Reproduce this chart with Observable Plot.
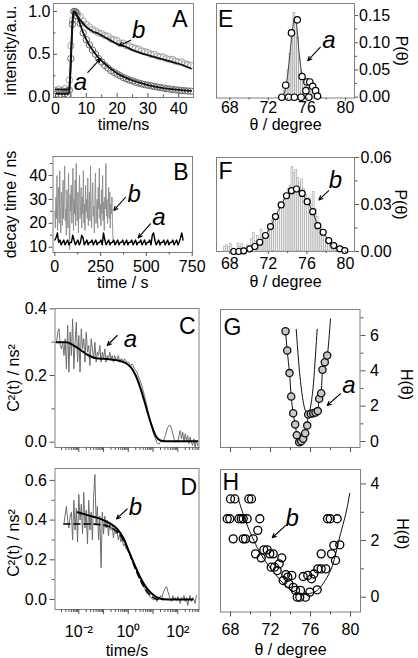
<!DOCTYPE html>
<html><head><meta charset="utf-8">
<script src="https://cdn.jsdelivr.net/npm/d3@7"></script>
<script src="https://cdn.jsdelivr.net/npm/@observablehq/plot@0.6"></script>
<style>
html,body{margin:0;padding:0;background:#fff;}
#root{position:relative;width:418px;height:658px;overflow:hidden;background:#fff;}
#root svg{position:absolute;max-width:none;}
</style></head><body><div id="root"></div>
<script>
// ---------- Panel A : fluorescence decays ----------
const aTime = [0,1,2,3,4,4.5,5,5.5,6,6.5,7,8,9,10,11,12,13,14,15,16,17,18,19,20,21,22,23,24,25,26,27,28,29,30,31,32,33,34,35,36,37,38,39,40,41,42,43,44];
const aCircA = [0.03,0.02,0.03,0.04,0.03, 0.08,0.45,0.85,1.0,0.99, 0.95,0.86,0.75,0.67,0.61,0.55,0.50,0.45,0.41,0.37, 0.34,0.31,0.29,0.27,0.25,0.23,0.215,0.20,0.19,0.175, 0.165,0.155,0.147,0.14,0.133,0.126,0.119,0.113,0.107,0.10, 0.095,0.09,0.086,0.082,0.078,0.075,0.072,0.07];
const aCircB = [0.08,0.09,0.08,0.10,0.08, 0.2,0.6,0.9,1.0,1.0, 0.98,0.94,0.89,0.85,0.82,0.79,0.77,0.75,0.74,0.72, 0.71,0.68,0.67,0.66,0.63,0.63,0.60,0.60,0.58,0.57, 0.56,0.54,0.53,0.52,0.50,0.50,0.48,0.47,0.47,0.45, 0.44,0.44,0.42,0.41,0.41,0.39,0.38,0.37];
const aFitTime = [0,4.4,4.8,5.2,5.6,6.0,6.5,7,8,9,10,12,14,16,18,20,22,25,28,31,34,37,40,44];
const aFitA = [0.04,0.04,0.25,0.6,0.9,1.0,0.99,0.95,0.85,0.75,0.67,0.55,0.46,0.39,0.33,0.28,0.24,0.195,0.16,0.133,0.113,0.097,0.085,0.073];
const aFitB = [0.09,0.09,0.3,0.65,0.92,1.0,0.98,0.95,0.9,0.86,0.82,0.77,0.74,0.70,0.66,0.62,0.60,0.55,0.51,0.48,0.45,0.42,0.39,0.335];
const annA = [{label:"a", tx:8.1, ty:0.175, x1:10.5, y1:0.29, x2:14.6, y2:0.45},
              {label:"b", tx:27.0, ty:0.78, x1:24.4, y1:0.665, x2:20.6, y2:0.6}];

// ---------- Panel B : decay-time trajectories ----------
const bStepB = 3, bStepA = 7;
const bTraceB = [25,18,31,22,40,17,28,35,20,42, 24,16,33,27,19,38,22,30,44,21, 26,15,34,29,18,41,23,9,32,25, 36,20,28,43,17,30,24,38,19,45, 26,21,33,16,29,40,22,27,35,18, 31,24,42,20,28,17,36,25,30,22, 39,19,26,33,21,44,24,18,29,37, 23,27,16,32,41,20,25,30,18,35, 26,43,22,28,19,34,24,40,21,29, 17,31,26,45,23,30,20,27,35,22, 33,18,28,24,31,20,12,13,12,11, 12];
const bTraceA = [13,14,16,12,13,11,12,13,11,12, 13,11,12,12,15,13,11,12,13,11, 12,15,14,11,12,13,11,12,12,13, 11,12,13,11,12,12,13,11,16,13, 11,12,13,11,12,12,13,11,12,13, 11,12,12,13,11,12,13,11,12,12, 13,11,12,13,11,12,12,13,11,12, 13,11,12,12,13,11,15,16,13,11, 12,13,11,12,12,13,11,12,13,11, 12,12,13,11,12,13,11,12,14,16, 13];
const annB = [{label:"b", tx:433, ty:32.3, x1:386, y1:30.9, x2:322, y2:25.4},
              {label:"a", tx:568, ty:22.6, x1:522, y1:19.8, x2:455, y2:13.9}];

// ---------- Panel C : correlation a ----------
const cLog0 = -2.9, cLogStep = 0.05;
const cData = [0.30,0.33,0.34,0.29,0.28,0.30,0.26,0.31,0.22,
 0.35,0.21,0.33,0.26,0.37,0.22,0.30,0.36,0.24,0.32,0.21,0.34,0.28,0.31,0.24,0.33,0.27,0.29,0.23,0.31,
 0.28,0.25,0.30,0.24,0.27,0.26,0.29,0.24,0.27,0.25,0.28,0.24,0.26,0.25,0.27,0.25,0.26,0.24,0.26,0.25,
 0.25,0.26,0.24,0.25,0.25,0.24,0.25,0.245,0.24,0.24,0.235,0.23,0.235,0.23,0.22,0.215,0.21,0.20,0.19,0.18,
 0.17,0.155,0.14,0.125,0.11,0.09,0.075,0.06,0.045,0.03,0.02,0.01,
 0.0,-0.005,-0.005,0.0,0.005,0.0,0.01,0.02,0.035,0.045,0.05,0.05,0.04,0.025,0.01,0.0,0.005,0.0,0.02,0.035,0.01,0.03,0.0,0.025,0.005,0.02,-0.005,0.015,0.0,-0.01,0.01,-0.015,0.005,-0.01];
const cFitLog = [-2.9,-2.5,-2.2,-1.9,-1.6,-1.3,-1.0,-0.7,-0.4,-0.1,0.1,0.3,0.5,0.7,0.9,1.1,1.3,1.5,2.0,2.8];
const cFitVal = [0.30,0.30,0.29,0.275,0.26,0.252,0.25,0.248,0.245,0.237,0.225,0.20,0.16,0.11,0.06,0.02,0.005,0.003,0.003,0.003];
const annC = [{label:"a", tx:1.23, ty:0.31, x1:0.355, y1:0.32, x2:0.141, y2:0.29}];

// ---------- Panel D : correlation b ----------
const dLog0 = -2.6, dLogStep = 0.05;
const dData = [0.38,0.43,0.47,0.40,0.36,0.42,0.44,0.30,0.50,0.35,0.46,0.29,0.53,
 0.40,0.48,0.33,0.54,0.36,0.45,0.28,0.50,0.35,0.44,0.30,0.52,0.63,0.38,0.47,0.30,0.42,0.16,0.44,0.33,
 0.42,0.36,0.40,0.32,0.39,0.35,0.37,0.31,0.36,0.33,0.34,0.30,0.33,0.29,0.31,0.27,0.28,0.26,0.25,0.24,
 0.23,0.21,0.20,0.19,0.17,0.16,0.14,0.13,0.11,0.10,0.08,0.07,0.06,0.045,0.03,0.03,0.02,0.01,0.005,0.0,
 0.0,0.01,-0.01,0.0,0.005,0.02,0.0,0.03,0.045,0.06,0.065,0.04,0.02,0.0,-0.01,0.02,0.0,0.01,-0.005,0.015,0.0,-0.02,0.01,0.0,0.02,-0.01,0.01,-0.03,0.0,0.02,-0.01,0.01,0.0,-0.02,0.02];
const dFitLog = [-2.05,-1.5,-1.1,-0.7,-0.45,-0.2,0,0.2,0.49,0.7,0.9,1.1,1.3,1.6,2.6];
const dFitVal = [0.44,0.42,0.405,0.38,0.356,0.31,0.25,0.19,0.11,0.065,0.035,0.015,0.004,0.0,0.0];
const dDashLog = [-2.6,-1.5,-1.0,-0.6,-0.3,0.0,0.3,0.6,0.9,1.2,1.45];
const dDashVal = [0.38,0.38,0.375,0.355,0.32,0.25,0.15,0.07,0.02,0.0,0.0];
const annD = [{label:"b", tx:1.95, ty:0.464, x1:0.90, y1:0.456, x2:0.333, y2:0.406}];
const cdTicks = [0.001,0.01,0.1,1,10,100];
const cdTickLabels = ["","10⁻²","","10⁰","","10²"];

// ---------- Panel E : angle distribution a ----------
const eBinStart = 73.4, eBinW = 0.2;
const eBins = [0.004,0.012,0.028,0.05,0.08,0.11,0.155,0.135,0.11,0.07,0.045,0.032,0.028,0.026,0.024,0.02,0.015,0.01,0.005];
const eCircT = [73.4,73.8,74.4,75.0,75.5,75.9,76.0,76.3,76.6,76.9,77.1,74.1,74.7,75.4,76.2];
const eCircP = [0.0,0.022,0.118,0.142,0.038,0.012,0.028,0.028,0.020,0.012,0.002,0.0,0.0,0.0,0.0];
const eFitT = [73.3,73.7,74.0,74.3,74.55,74.75,74.95,75.2,75.45,75.7,76.0,76.4,76.8,77.2,77.5];
const eFitP = [0,0.01,0.04,0.09,0.13,0.145,0.13,0.08,0.045,0.032,0.028,0.022,0.012,0.003,0];
const annE = [{label:"a", tx:78.28, ty:0.104, x1:77.4, y1:0.092, x2:76.09, y2:0.067}];

// ---------- Panel F : angle distribution b ----------
const fBinStart = 67.4, fBinW = 0.2;
const fBins = [0.003,0.004,0.003,0.005,0.002,0.0,0.001,0.005,0.003,0.005, 0.002,0.001,0.004,0.003,0.008,0.012,0.006,0.010,0.005,0.014, 0.010,0.012,0.009,0.016,0.015,0.020,0.018,0.024,0.022,0.028, 0.030,0.033,0.036,0.040,0.042,0.054,0.050,0.052,0.047,0.044, 0.046,0.040,0.036,0.033,0.034,0.030,0.038,0.027,0.022,0.018, 0.015,0.012,0.010,0.008,0.006,0.004,0.005,0.003,0.002,0.003, 0.001,0.001];
const fCircT = [68.41,68.93,69.45,70.07,70.6,71.11,71.7,72.22,72.74,73.33,73.88,74.4,74.92,75.51,76.03,76.61,77.13,77.69,78.27,78.79,79.41,79.93];
const fCircP = [0.0,0.0,0.0004,0.0017,0.0032,0.0059,0.0102,0.0159,0.0223,0.0297,0.0356,0.0388,0.0399,0.0371,0.0318,0.0254,0.0165,0.0123,0.0070,0.0038,0.0017,0.0006];
const annF = [{label:"b", tx:78.96, ty:0.0452, x1:78.27, y1:0.0388, x2:77.24, y2:0.0329}];

// ---------- Panel G : free energy a ----------
const gT = [73.5,73.67,73.9,74.07,74.27,74.47,74.63,74.87,75.07,75.27,75.47,75.67,75.77,76.03,76.27,76.5,76.73,76.87,77.07,77.2,77.43,77.67];
const gH = [6.24,5.15,3.87,2.55,1.60,0.96,0.36,-0.04,0.02,0.15,0.47,0.9,1.53,1.57,1.60,1.64,1.72,2.42,2.73,4.06,4.49,4.87];
const gTailT = [78.0], gTailH = [6.94];
const gParT = [74.57,74.8,75.0,75.2,75.4,75.6,75.73,75.9,76.1,76.3,76.5,76.67];
const gParH = [6.35,4.6,3.4,2.5,1.9,1.6,1.53,1.7,2.3,3.3,4.9,6.35];
const annG = [{label:"a", tx:79.83, ty:3.17, x1:79.0, y1:2.70, x2:77.67, y2:2.04}];

// ---------- Panel H : free energy b ----------
const hT = [68.0,68.43,69.83,70.1,67.67,67.93,68.83,69.07,69.27,69.67,70.93,68.27,69.27,69.5,70.27,70.73,70.5,71.07,71.33,71.67,71.93,72.27,72.07,72.4,72.67,72.87,73.13,73.27,73.53,73.73,73.83,74.13,74.27,74.5,74.67,74.93,75.0,75.27,75.5,75.73,75.93,76.1,76.33,76.67,76.73,77.07,77.53,77.07,77.7,77.97,78.67,78.1,78.33,78.93,78.5];
const hH = [3.47,3.47,3.47,3.47,2.77,2.77,2.77,2.77,2.77,2.77,2.77,2.06,2.06,2.06,2.06,2.36,1.53,1.39,1.67,1.67,1.53,1.53,1.06,1.06,0.94,1.18,1.39,0.59,0.8,0.71,0.47,0.77,0.35,0.24,0.0,0.0,0.24,0.73,0.0,0.77,0.18,0.65,0.82,0.26,1.0,1.0,1.0,1.53,2.77,2.77,2.77,1.53,1.83,1.85,1.3];
const hFitT = [68.77,69.5,70.33,71.0,71.67,72.5,73.33,74.2,75.0,75.6,76.2,76.67,77.3,78.0,78.5,79.0,79.5,79.93];
const hFitH = [3.48,2.7,2.0,1.55,1.18,0.8,0.47,0.22,0.1,0.1,0.16,0.24,0.5,0.94,1.5,2.24,2.9,3.67];
const annH = [{label:"b", tx:74.17, ty:2.77, x1:73.5, y1:2.53, x2:72.17, y2:2.10}];

// ================= drawing =================
const FONT = "'Liberation Sans', Arial, Helvetica, sans-serif";
const FRAME = "#808080", TICK = "#555";
const root = document.getElementById("root");
const zip = (xs, ys) => xs.map((x, i) => ({x, y: ys[i]}));

function panel(box, m, x, y, marks) {
  const [L, T, R, B] = box, [mt, mr, mb, ml] = m;
  const svg = Plot.plot({
    width: R - L + ml + mr, height: B - T + mt + mb,
    marginTop: mt, marginRight: mr, marginBottom: mb, marginLeft: ml,
    x, y, marks,
    style: {fontFamily: FONT, fontSize: "16px", background: "transparent", overflow: "visible", color: "black"}
  });
  svg.style.position = "absolute";
  svg.style.left = (L - ml) + "px";
  svg.style.top = (T - mt) + "px";
  root.appendChild(svg);
}
function ax(dir, anchor, ticks, labels, o = {}) {
  const f = dir === "x" ? Plot.axisX : Plot.axisY;
  return f({anchor, ticks, label: null, stroke: TICK, tickSize: 4, tickPadding: 3,
    tickFormat: labels ? (d => { const i = ticks.indexOf(d); return i < 0 ? "" : labels[i]; }) : () => "", ...o});
}
function ann(list) {
  return [
    Plot.arrow(list, {x1: "x1", y1: "y1", x2: "x2", y2: "y2", stroke: "black", strokeWidth: 1.1, headLength: 6, headAngle: 50}),
    Plot.text(list, {x: "tx", y: "ty", text: "label", fontStyle: "italic", fontSize: 24, fill: "black", textAnchor: "middle", lineAnchor: "middle"})
  ];
}
const frame = () => Plot.frame({stroke: FRAME, strokeWidth: 1});
const letter = (s, anchor, dx, dy) => Plot.text([s], {frameAnchor: anchor, dx, dy, textAnchor: anchor.endsWith("right") ? "end" : "start", lineAnchor: "top", fontSize: 23, fill: "black"});
const TT = {fontSize: 16, fill: "black", textAnchor: "middle", lineAnchor: "middle"};
const xTitle = (s, dy) => Plot.text([s], {frameAnchor: "bottom", dy, ...TT});
const yTitleL = (s, dx, dy = 0) => Plot.text([s], {frameAnchor: "left", dx, dy, rotate: -90, ...TT});
const yTitleR = (s, dx, dy = 0) => Plot.text([s], {frameAnchor: "right", dx, dy, rotate: 90, ...TT});
function logMinor(lo, hi) {
  const out = [];
  for (let k = -3; k <= 2; k++) for (let m = 2; m <= 9; m++) { const v = m * 10 ** k; if (v >= lo && v <= hi) out.push(v); }
  return out;
}

// ---- A ----
{
  const xt = [0,10,20,30,40], xl = ["0","10","20","30","40"];
  const yt = [0,0.5,1.0], yl = ["0.0","0.5","1.0"];
  panel([53, 3, 193, 97], [3, 10, 40, 53],
    {domain: [-0.65, 44.8]}, {domain: [-0.0035, 1.093]},
    [
      frame(),
      Plot.dot(zip(aTime, aCircB), {x: "x", y: "y", r: 3.2, stroke: "#9a9a9a", strokeWidth: 0.9, clip: true}),
      Plot.dot(zip(aTime, aCircA), {x: "x", y: "y", r: 3.2, stroke: "#6a6a6a", strokeWidth: 1, clip: true}),
      Plot.line(zip(aFitTime, aFitB), {x: "x", y: "y", stroke: "#111", strokeWidth: 1.8, curve: "monotone-x", clip: true}),
      Plot.line(zip(aFitTime, aFitA), {x: "x", y: "y", stroke: "#111", strokeWidth: 1.8, curve: "monotone-x", clip: true}),
      ax("x", "bottom", xt, xl, {tickSize: -4, tickPadding: 9}),
      ax("x", "bottom", [5,15,25,35], null, {tickSize: -2.5}),
      ax("y", "left", yt, yl, {tickSize: -4, tickPadding: 7}),
      ax("y", "left", [0.25,0.75], null, {tickSize: -2.5}),
      xTitle("time/ns", 27),
      yTitleL("intensity/a.u.", -43),
      letter("A", "top-right", -6, 7),
      ...ann(annA)
    ]);
}
// ---- B ----
{
  const xt = [0,250,500,750], xl = ["0","250","500","750"];
  const yt = [10,20,30,40], yl = ["10","20","30","40"];
  panel([52.5, 156, 192, 252], [4, 12, 40, 52.5],
    {domain: [-9.8, 751.6]}, {domain: [7.78, 47.95]},
    [
      frame(),
      Plot.line(bTraceB.map((v, i) => ({x: i * bStepB, y: v})), {x: "x", y: "y", stroke: "#8a8a8a", strokeWidth: 0.9, clip: true}),
      Plot.line(bTraceA.map((v, i) => ({x: i * bStepA, y: v})), {x: "x", y: "y", stroke: "#000", strokeWidth: 1.4, clip: true}),
      ax("x", "bottom", xt, xl, {tickSize: 4, tickPadding: 4}),
      ax("x", "bottom", [125,375,625], null, {tickSize: 2.5}),
      ax("y", "left", yt, yl, {tickSize: 4, tickPadding: 2}),
      ax("y", "left", [15,25,35,45], null, {tickSize: 2.5}),
      xTitle("time / s", 30),
      yTitleL("decay time / ns", -42),
      letter("B", "top-right", -4, 7),
      ...ann(annB)
    ]);
}
// ---- C ----
const cdDomain = [10 ** -2.962, 10 ** 2.857];
{
  const yt = [0,0.2,0.4], yl = ["0.0","0.2","0.4"];
  panel([54.5, 308, 198.5, 447], [4, 12, 14, 54.5],
    {type: "log", domain: cdDomain}, {domain: [-0.0159, 0.401]},
    [
      frame(),
      Plot.line(cData.map((v, i) => ({x: 10 ** (cLog0 + i * cLogStep), y: v})), {x: "x", y: "y", stroke: "#6e6e6e", strokeWidth: 1, clip: true}),
      Plot.line(cFitLog.map((l, i) => ({x: 10 ** l, y: cFitVal[i]})), {x: "x", y: "y", stroke: "#000", strokeWidth: 2, curve: "monotone-x", clip: true}),
      ax("x", "bottom", cdTicks.filter(v => v >= cdDomain[0]), null, {tickSize: 5}),
      ax("x", "bottom", logMinor(cdDomain[0], cdDomain[1]), null, {tickSize: 3}),
      ax("y", "left", yt, yl, {tickSize: 5, tickPadding: 3}),
      ax("y", "left", [0.1,0.3], null, {tickSize: 3}),
      yTitleL("C²(t) / ns²", -41),
      letter("C", "top-right", -3.5, 9),
      ...ann(annC)
    ]);
}
// ---- D ----
{
  const yt = [0,0.2,0.4,0.6], yl = ["0.0","0.2","0.4","0.6"];
  const xt = cdTicks.filter(v => v >= cdDomain[0]);
  const xl = cdTickLabels.filter((s, i) => cdTicks[i] >= cdDomain[0]);
  panel([54.5, 468, 198.5, 609], [4, 12, 49, 54.5],
    {type: "log", domain: cdDomain}, {domain: [-0.0504, 0.66]},
    [
      frame(),
      Plot.line(dData.map((v, i) => ({x: 10 ** (dLog0 + i * dLogStep), y: v})), {x: "x", y: "y", stroke: "#6e6e6e", strokeWidth: 1, clip: true}),
      Plot.line(dDashLog.map((l, i) => ({x: 10 ** l, y: dDashVal[i]})), {x: "x", y: "y", stroke: "#000", strokeWidth: 1.6, strokeDasharray: "6,4", curve: "monotone-x", clip: true}),
      Plot.line(dFitLog.map((l, i) => ({x: 10 ** l, y: dFitVal[i]})), {x: "x", y: "y", stroke: "#000", strokeWidth: 2, curve: "monotone-x", clip: true}),
      ax("x", "bottom", xt, xl, {tickSize: 5, tickPadding: 11}),
      ax("x", "bottom", logMinor(cdDomain[0], cdDomain[1]), null, {tickSize: 3}),
      ax("y", "left", yt, yl, {tickSize: 5, tickPadding: 3}),
      ax("y", "left", [0.1,0.3,0.5], null, {tickSize: 3}),
      xTitle("time/s", 41),
      yTitleL("C²(t) / ns²", -41, 4),
      letter("D", "top-right", -2, 10),
      ...ann(annD)
    ]);
}
// ---- E ----
{
  const xt = [68,72,76,80], xl = ["68","72","76","80"];
  const yt = [0,0.05,0.10,0.15], yl = ["0.00","0.05","0.10","0.15"];
  panel([216, 3, 354, 97.5], [3, 64, 40, 14],
    {domain: [66.62, 80.94]}, {domain: [-0.0015, 0.172]},
    [
      frame(),
      Plot.rect(eBins.map((v, i) => ({x1: eBinStart + i * eBinW, x2: eBinStart + (i + 1) * eBinW, y: v})), {x1: "x1", x2: "x2", y1: 0, y2: "y", fill: "#f0f0f0", stroke: "#9a9a9a", strokeWidth: 0.6}),
      Plot.line(zip(eFitT, eFitP), {x: "x", y: "y", stroke: "#444", strokeWidth: 1, curve: "monotone-x"}),
      Plot.dot(zip(eCircT, eCircP), {x: "x", y: "y", r: 3.2, stroke: "#000", fill: "#fff", strokeWidth: 1.2}),
      ax("x", "bottom", xt, xl, {tickSize: 3, tickPadding: 1}),
      ax("x", "bottom", [70,74,78], null, {tickSize: 2}),
      ax("y", "right", yt, yl, {tickSize: 3, tickPadding: 1.5}),
      ax("y", "right", [0.025,0.075,0.125], null, {tickSize: 2}),
      xTitle("θ / degree", 27),
      yTitleR("P(θ)", 46.5),
      letter("E", "top-left", 1.5, 7),
      ...ann(annE)
    ]);
}
// ---- F ----
{
  const xt = [68,72,76,80], xl = ["68","72","76","80"];
  const yt = [0,0.03,0.06], yl = ["0.00","0.03","0.06"];
  panel([216, 157, 354, 251], [8, 64, 40, 14],
    {domain: [66.62, 80.94]}, {domain: [0, 0.06]},
    [
      frame(),
      Plot.rect(fBins.map((v, i) => ({x1: fBinStart + i * fBinW, x2: fBinStart + (i + 1) * fBinW, y: v})), {x1: "x1", x2: "x2", y1: 0, y2: "y", fill: "#f0f0f0", stroke: "#a8a8a8", strokeWidth: 0.6}),
      Plot.line(zip(fCircT, fCircP), {x: "x", y: "y", stroke: "#333", strokeWidth: 1, curve: "monotone-x"}),
      Plot.dot(zip(fCircT, fCircP), {x: "x", y: "y", r: 3, stroke: "#000", fill: "#fff", strokeWidth: 1.2}),
      ax("x", "bottom", xt, xl, {tickSize: 3, tickPadding: 3}),
      ax("x", "bottom", [70,74,78], null, {tickSize: 2}),
      ax("y", "right", yt, yl, {tickSize: 4, tickPadding: 2}),
      ax("y", "right", [0.015,0.045], null, {tickSize: 2.5}),
      xTitle("θ / degree", 30),
      yTitleR("P(θ)", 46),
      letter("F", "top-left", 2, 5),
      ...ann(annF)
    ]);
}
// ---- G ----
{
  const yt = [0,2,4,6], yl = ["0","2","4","6"];
  panel([220, 309, 359.5, 447], [4, 58.5, 14, 10],
    {domain: [67, 80.95]}, {domain: [-0.34, 7.47]},
    [
      frame(),
      Plot.line(zip(gParT, gParH), {x: "x", y: "y", stroke: "#111", strokeWidth: 1, curve: "natural", clip: true}),
      Plot.line(zip(gT.concat(gTailT), gH.concat(gTailH)), {x: "x", y: "y", stroke: "#111", strokeWidth: 1, curve: "monotone-x", clip: true}),
      Plot.dot(zip(gT, gH), {x: "x", y: "y", r: 3.6, stroke: "#111", fill: "#c8c8c8", strokeWidth: 1.3}),
      ax("x", "bottom", [68,72,76,80], null, {tickSize: 5}),
      ax("x", "bottom", [70,74,78], null, {tickSize: 3}),
      ax("y", "right", yt, yl, {tickSize: 5, tickPadding: 5}),
      ax("y", "right", [1,3,5,7], null, {tickSize: 3}),
      yTitleR("H(θ)", 46.5, 6),
      letter("G", "top-left", 3, 9),
      ...ann(annG)
    ]);
}
// ---- H ----
{
  const xt = [68,72,76,80], xl = ["68","72","76","80"];
  const yt = [0,2,4], yl = ["0","2","4"];
  panel([220, 469, 360, 611.5], [4, 58, 46.5, 10],
    {domain: [67, 81]}, {domain: [-0.523, 4.51]},
    [
      frame(),
      Plot.line(zip(hFitT, hFitH), {x: "x", y: "y", stroke: "#111", strokeWidth: 1, curve: "natural", clip: true}),
      Plot.dot(zip(hT, hH), {x: "x", y: "y", r: 4, stroke: "#000", fill: "none", strokeWidth: 1.3}),
      ax("x", "bottom", xt, xl, {tickSize: 5, tickPadding: 7}),
      ax("x", "bottom", [70,74,78], null, {tickSize: 3}),
      ax("y", "right", yt, yl, {tickSize: 5, tickPadding: 5}),
      ax("y", "right", [1,3], null, {tickSize: 3}),
      xTitle("θ / degree", 38),
      yTitleR("H(θ)", 42, -7),
      letter("H", "top-left", 2, 4),
      ...ann(annH)
    ]);
}
</script></body></html>
